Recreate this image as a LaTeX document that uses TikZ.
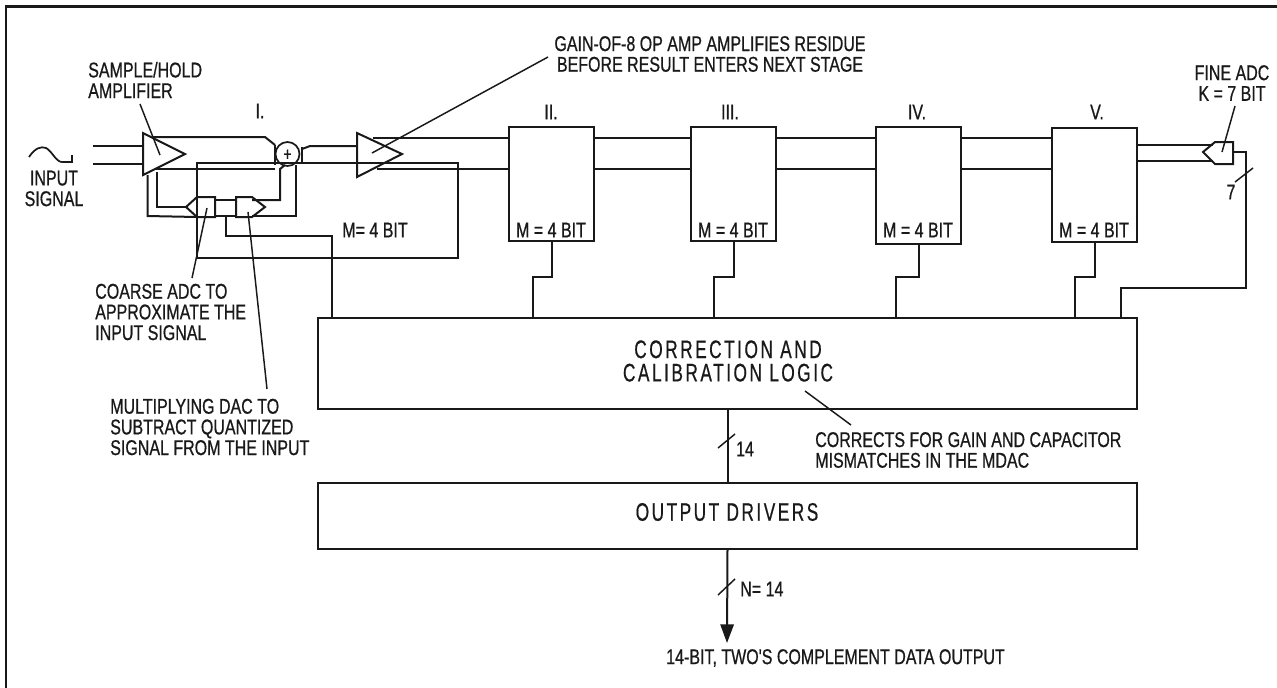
\documentclass[tikz,border=0pt]{standalone}
\usepackage{fontspec}
\setmainfont{Liberation Sans}
\newfontfamily\lblfont[FakeStretch=0.75,FakeBold=0.7]{Liberation Sans}
\newfontfamily\bigfont[FakeStretch=0.68,FakeBold=0.6,LetterSpace=10]{Liberation Sans}
\usetikzlibrary{arrows.meta}
\tikzset{
 wire/.style={line width=1.5pt,line join=miter,black!90},
 leader/.style={line width=1.1pt,black!90},
 stage/.style={draw=black!90,line width=1.5pt,rectangle,minimum width=63.75pt,minimum height=85.5pt,inner sep=0pt,outer sep=0pt},
 logicbox/.style={draw=black!90,line width=1.5pt,rectangle,minimum width=614.25pt,inner sep=0pt,outer sep=0pt},
 lbl/.style={font=\lblfont\fontsize{16}{15.5}\selectfont,inner sep=0pt,text=black!90},
 lblL/.style={lbl,align=left,anchor=west},
 lblC/.style={lbl,align=center},
 biglbl/.style={font=\bigfont\fontsize{19}{17.5}\selectfont,inner sep=0pt,align=center,text=black!90},
}
\begin{document}
\begin{tikzpicture}[x=0.75pt,y=-0.75pt]
\useasboundingbox (0,0) rectangle (1277,687);
% frame
\coordinate (fbl) at (6,690); \coordinate (ftl) at (6,6.5); \coordinate (ftr) at (1280,6.5);
\begin{scope}
\clip (0,0) rectangle (1277,687);
\draw[line width=2.2pt,black!90] (fbl) -- (ftl) -- (ftr);
\end{scope}

% stage boxes
\node[stage] (b2) at (551.5,184) {};
\node[stage] (b3) at (733.5,184) {};
\node[stage,minimum height=87.5pt] (b4) at (918.5,185.5) {};
\node[stage] (b5) at (1094.5,185) {};
\node[logicbox,minimum height=68.25pt] (logic) at (727.5,363.5) {};
\node[logicbox,minimum height=49.5pt] (drv) at (727.5,516) {};

% named points
\foreach \n/\x/\y in {sa/143/133,sb/143/175,sc/185/154,
  aa/357/133,ab/357/177,ac/402/154,
  ia/93/145.5,ib/93/163.5,ic/143/145.5,id/143/163.5,
  sta/152/137,stb/265/137,stc/275/145,ssa/155/169,ssb/275/169,
  adcT/186/207,adcA/197/197,adcB/215/197,adcC/215/217,adcD/197/217,
  dacA/236/197,dacB/252/197,dacT/265/207,dacC/252/217,dacD/236/217,
  rtl/197/163,rtr/458/163,rbr/458/258,rbl/197/258,
  m1/331.5/318,m2/533/318,m3/714/318,m4/896/318,m5/1075/318,m6/1121/318,
  fa/1233/152,fb/1246/152,fc/1246/288,
  ota/373/137.5,otb/377/169,
  of/1203/152,oa/1215/142,ob/1233/142,oc/1233/164,od/1215/164,
  out/727/643}
  {\coordinate (\n) at (\x,\y);}

% inputs and S/H amp
\draw[wire] (ia) -- (ic);
\draw[wire] (ib) -- (id);
\draw[wire] (sa) -- (sb) -- (sc) -- cycle;
% summing node
\node[circle,draw=black!90,line width=1.3pt,minimum size=18pt,inner sep=0pt] (sum) at (287.5,154) {};
\node[lbl,font=\lblfont\fontsize{14}{14}\selectfont] (plus) at (287.5,155) {+};
\draw[wire] (sta) -- (stb) -- (stc);
\draw[wire] (ssa) -- (ssb);
\draw[wire] (275,145) -- (275,165);
\draw[wire] (302,147) -- (302,163);
\draw[wire] (302,149) -- (310,146) -- (357,146);
% gain amp
\draw[wire] (aa) -- (ab) -- (ac) -- cycle;
% residue feedback rectangle
\draw[wire] (rtl) -- (rtr) -- (rbr) -- (rbl) -- cycle;
% ADC and DAC
\draw[wire] (adcT) -- (adcA) -- (adcB) -- (adcC) -- (adcD) -- cycle;
\draw[wire] (dacA) -- (dacB) -- (dacT) -- (dacC) -- (dacD) -- cycle;
\draw[wire] (215,200) -- (236,200);
\draw[wire] (215,216) -- (236,216);
\draw[wire] (147.5,175) -- (147.5,216) -- (adcD);
\draw[wire] (157,172) -- (157,207) -- (adcT);
\draw[wire] (252,200) -- (280,200) -- (280,169) -- (285,165);
\draw[wire] (252,216) -- (295.5,216) -- (295.5,165);
\draw[wire] (225.5,217) -- (225.5,236) -- (331.5,236) -- (m1);

% between stages
\draw[wire] (ota) -- (b2.west |- ota);
\draw[wire] (otb) -- (b2.west |- otb);
\foreach \a/\b in {b2/b3,b3/b4,b4/b5}{
  \draw[wire] (\a.east |- ota) -- (\b.west |- ota);
  \draw[wire] (\a.east |- otb) -- (\b.west |- otb);
}
% stubs
\draw[wire] (b2.south) -- (b2.center |- 0,277) -| (m2);
\draw[wire] (b3.south) -- (b3.center |- 0,277) -| (m3);
\draw[wire] (b4.south) -- (b4.center |- 0,277) -| (m4);
\draw[wire] (b5.south) -- (b5.center |- 0,277) -| (m5);
% fine ADC
\draw[wire] (b5.east |- 0,145) -- (1213,145);
\draw[wire] (b5.east |- 0,161) -- (1213,161);
\draw[wire] (of) -- (oa) -- (ob) -- (oc) -- (od) -- cycle;
\draw[wire] (fa) -- (fb) -- (fc) -| (m6);
\coordinate (s7a) at (1235,182); \coordinate (s7b) at (1253,168);
\draw[leader] (s7a) -- (s7b);
% vertical buses
\draw[wire] (logic.south) -- (drv.north);
\coordinate (s14a) at (718,448); \coordinate (s14b) at (735,434);
\draw[leader] (s14a) -- (s14b);
\draw[wire,-{Triangle[length=14pt,width=10pt]}] (drv.south) -- (out);
\coordinate (snA) at (718,595); \coordinate (snB) at (735,579);
\draw[leader] (snA) -- (snB);

% sine
\draw[wire,line width=1.3pt] (29,157) .. controls (35,148) and (41,146) .. (46,148)
  .. controls (52,151) and (56,162) .. (62,162) -- (72,162) -- (72,155);

% leaders
\coordinate (l1a) at (140,104); \coordinate (l1b) at (160,155);
\draw[leader] (l1a) -- (l1b);
\coordinate (l2a) at (548,57); \coordinate (l2b) at (372,153);
\draw[leader] (l2a) -- (l2b);
\coordinate (l3a) at (207,208); \coordinate (l3b) at (192,278);
\draw[leader] (l3a) -- (l3b);
\coordinate (l4a) at (248,212); \coordinate (l4b) at (267,389);
\draw[leader] (l4a) -- (l4b);
\coordinate (l5a) at (805,391); \coordinate (l5b) at (851,425);
\draw[leader] (l5a) -- (l5b);
\coordinate (l6a) at (1235,106); \coordinate (l6b) at (1222,152);
\draw[leader] (l6a) -- (l6b);

% labels
\node[lblL] (tsh) at (88,80) {SAMPLE/HOLD\\AMPLIFIER};
\node[lblC] (tin) at (54,188.5) {INPUT\\SIGNAL};
\node[lbl] (t1) at (260,111) {I.};
\node[lblC] (tgain) at (710,54) {GAIN-OF-8 OP AMP AMPLIFIES RESIDUE\\BEFORE RESULT ENTERS NEXT STAGE};
\node[lbl] (t2) at (551,112) {II.};
\node[lbl] (t3) at (730,112) {III.};
\node[lbl] (t4) at (917,112) {IV.};
\node[lbl] (t5) at (1097,112) {V.};
\node[lbl] (tm1) at (375,230) {M= 4 BIT};
\node[lbl] (tm2) at (551,230) {M = 4 BIT};
\node[lbl] (tm3) at (733,230) {M = 4 BIT};
\node[lbl] (tm4) at (918,230) {M = 4 BIT};
\node[lbl] (tm5) at (1094,230) {M = 4 BIT};
\node[lblC] (tfine) at (1232,83) {FINE ADC\\K = 7 BIT};
\node[lbl] (t7) at (1231,192) {7};
\node[lblL] (tcoarse) at (95,312) {COARSE ADC TO\\APPROXIMATE THE\\INPUT SIGNAL};
\node[lblL] (tmult) at (110,427) {MULTIPLYING DAC TO\\SUBTRACT QUANTIZED\\SIGNAL FROM THE INPUT};
\node[biglbl] at (728,361) (tlogic) {CORRECTION AND\\CALIBRATION LOGIC};
\node[biglbl] at (727,512) (tdrv) {OUTPUT DRIVERS};
\node[lblL] (tcorr) at (815,450) {CORRECTS FOR GAIN AND CAPACITOR\\MISMATCHES IN THE MDAC};
\node[lbl] (t14) at (745,449) {14};
\node[lbl,anchor=west] (tn) at (740,589) {N= 14};
\node[lbl,anchor=west] (tout) at (666,658) {14-BIT, TWO'S COMPLEMENT DATA OUTPUT};
\end{tikzpicture}
\end{document}
